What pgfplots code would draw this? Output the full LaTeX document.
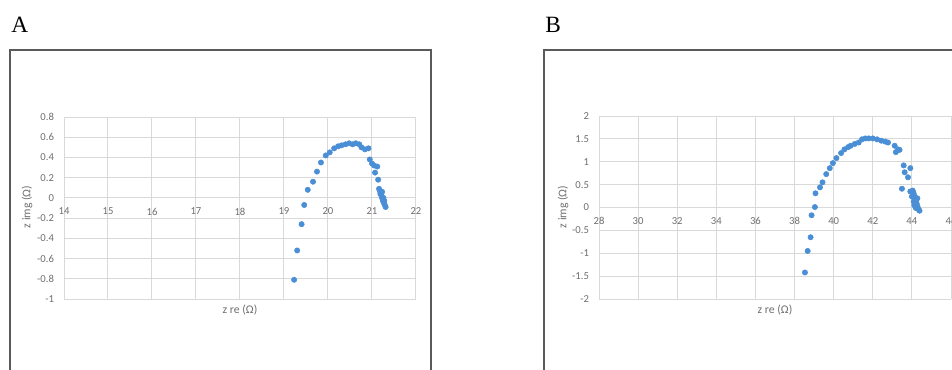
\documentclass[border=0pt]{standalone}
\usepackage{pgfplots}
\pgfplotsset{compat=1.18}
\usepackage{fontspec}
\setmainfont{Liberation Serif}
\newfontfamily\carlito{Carlito}
\definecolor{gridgray}{HTML}{D9D9D9}
\definecolor{ticktext}{HTML}{6E6E6E}
\definecolor{dotblue}{HTML}{4A8FD6}
\definecolor{framegray}{HTML}{5A5A5A}
\pgfplotsset{
  eis/.style={
    anchor=south west, scale only axis,
    axis x line=middle, axis y line=left,
    axis line style={-, draw=gridgray, line width=0.75pt},
    grid=major, grid style={draw=gridgray, line width=0.75pt},
    major tick length=0pt,
    tick style={draw=none},
    hide obscured x ticks=false, hide obscured y ticks=false,
    ticklabel style={font=\carlito\fontsize{8}{9}\selectfont, text=ticktext},
    xticklabel style={yshift=-4pt},
    yticklabel style={xshift=-4pt},
  },
  eisdots/.style={only marks, mark=*, mark size=2pt, mark options={fill=dotblue, draw=dotblue}},
}
\begin{document}
\begin{tikzpicture}[x=0.75pt,y=0.75pt]
\useasboundingbox (0,0) rectangle (952,369);
\clip (0,0) rectangle (952,369);
\draw[framegray, line width=0.8pt] (10,-20) -- (10,319) -- (431,319) -- (431,-20);
\draw[framegray, line width=0.8pt] (544,-20) -- (544,319) -- (980,319);
\node[anchor=base west, inner sep=0, font=\fontsize{17.5}{20}\selectfont] at (11,337) {A};
\node[anchor=base west, inner sep=0, font=\fontsize{17.5}{20}\selectfont] at (545,337) {B};

\begin{axis}[eis, at={(48pt,52.5pt)}, width=264pt, height=136.5pt,
  xmin=14, xmax=22, ymin=-1, ymax=0.8,
  xtick={14,15,16,17,18,19,20,21,22},
  xticklabels={14,15,16,17,18,19,20,21,22},
  ytick={-1,-0.8,-0.6,-0.4,-0.2,0,0.2,0.4,0.6,0.8},
  yticklabels={-1,-0.8,-0.6,-0.4,-0.2,0,0.2,0.4,0.6,0.8}]
\addplot[eisdots] coordinates {
(19.23,-0.81)(19.30,-0.52)(19.40,-0.26)(19.46,-0.07)(19.54,0.08)(19.66,0.16)
(19.75,0.26)(19.84,0.35)(19.95,0.42)(20.04,0.45)(20.14,0.49)(20.23,0.51)
(20.31,0.52)(20.40,0.53)(20.48,0.54)(20.56,0.53)(20.63,0.54)(20.71,0.53)
(20.76,0.50)(20.84,0.48)(20.92,0.49)(20.95,0.38)(21.00,0.34)(21.05,0.32)
(21.12,0.31)(21.07,0.25)(21.14,0.18)(21.16,0.09)(21.18,0.07)(21.20,0.05)
(21.21,0.03)(21.22,0.01)(21.24,-0.01)(21.25,-0.03)(21.27,-0.05)(21.29,-0.07)
(21.31,-0.09)(21.19,0.04)(21.23,0.06)(21.26,0.00)(21.28,-0.03)
};
\end{axis}
\node[rotate=90, font=\carlito\fontsize{8.8}{10}\selectfont, text=ticktext] at (27,162) {z img (Ω)};
\node[font=\carlito\fontsize{8.8}{10}\selectfont, text=ticktext] at (240,59) {z re (Ω)};

\begin{axis}[eis, at={(449.25pt,52.5pt)}, width=264pt, height=137.25pt,
  xmin=28, xmax=46, ymin=-2, ymax=2,
  xtick={28,30,32,34,36,38,40,42,44,46},
  xticklabels={28,30,32,34,36,38,40,42,44,46},
  ytick={-2,-1.5,-1,-0.5,0,0.5,1,1.5,2},
  yticklabels={-2,-1.5,-1,-0.5,0,0.5,1,1.5,2}]
\addplot[eisdots] coordinates {
(38.53,-1.42)(38.67,-0.95)(38.82,-0.65)(38.87,-0.17)(39.04,0.01)(39.07,0.31)
(39.30,0.44)(39.43,0.55)(39.62,0.73)(39.80,0.86)(39.96,0.97)(40.14,1.08)
(40.38,1.19)(40.55,1.27)(40.74,1.32)(40.87,1.35)(41.08,1.39)(41.28,1.42)
(41.45,1.49)(41.62,1.51)(41.79,1.51)(42.00,1.51)(42.22,1.49)(42.44,1.46)
(42.64,1.44)(42.78,1.42)(43.12,1.35)(43.18,1.21)(43.29,1.27)(43.37,1.26)
(43.58,0.92)(43.63,0.77)(43.80,0.66)(43.92,0.86)(43.49,0.41)(43.92,0.35)
(44.04,0.37)(44.09,0.31)(44.14,0.24)(44.17,0.18)(44.21,0.13)(44.25,0.08)
(44.29,0.02)(44.34,-0.04)(44.39,-0.07)(44.00,0.24)(44.09,0.13)(44.12,0.05)
(44.20,-0.01)(44.28,0.20)
};
\end{axis}
\node[rotate=90, font=\carlito\fontsize{8.8}{10}\selectfont, text=ticktext] at (563,162) {z img (Ω)};
\node[font=\carlito\fontsize{8.8}{10}\selectfont, text=ticktext] at (775,59) {z re (Ω)};
\end{tikzpicture}
\end{document}
